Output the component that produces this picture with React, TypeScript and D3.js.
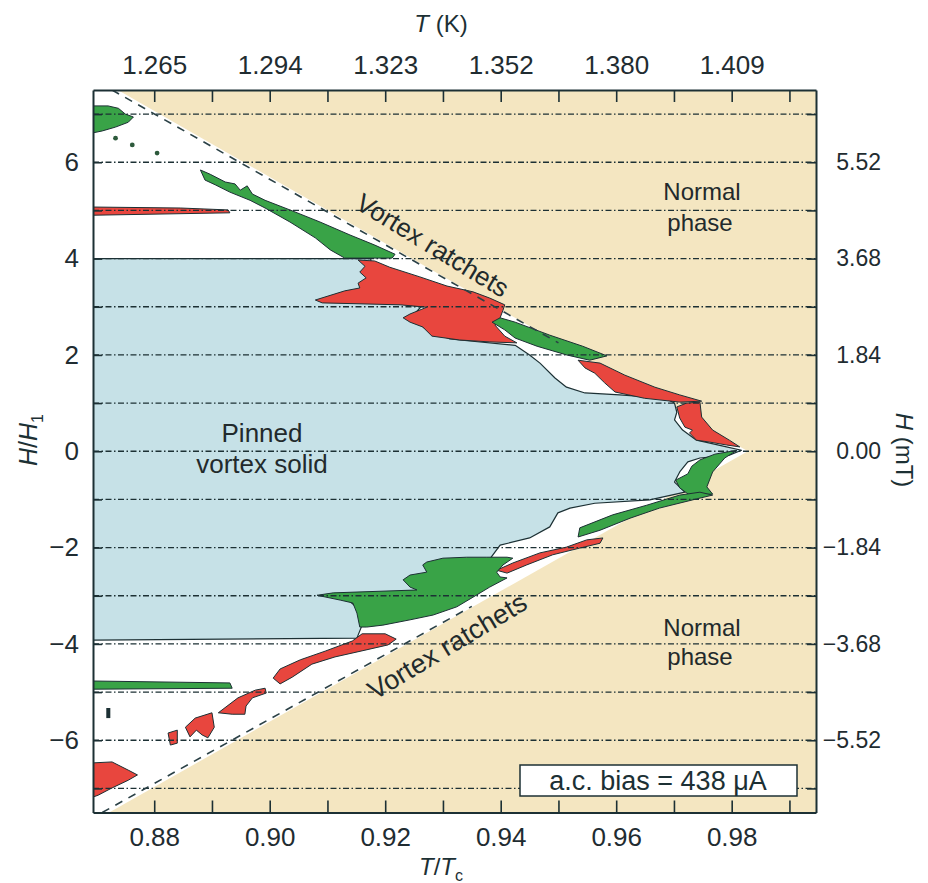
import React, { useEffect, useRef } from "react";
import * as d3 from "d3";

type Pt = [number, number]; // [T/Tc, H/H1]

// axis ranges and ticks
const tDomain: [number, number] = [0.8694, 0.9946];
const hDomain: [number, number] = [-7.5, 7.5];
const tTicks = [0.88, 0.89, 0.9, 0.91, 0.92, 0.93, 0.94, 0.95, 0.96, 0.97, 0.98, 0.99];
const tLabelled = [0.88, 0.9, 0.92, 0.94, 0.96, 0.98];
const kelvinLabels = ["1.265", "1.294", "1.323", "1.352", "1.380", "1.409"];
const hTicks = [-7, -6, -5, -4, -3, -2, -1, 0, 1, 2, 3, 4, 5, 6, 7];
const hLabelled = [6, 4, 2, 0, -2, -4, -6];
const mTLabels = ["5.52", "3.68", "1.84", "0.00", "\u22121.84", "\u22123.68", "\u22125.52"];

// white "vortex ratchets" wedge and its dashed edges
const ratchetRegion: Pt[] = [[0.8694, 7.5], [0.8737, 7.5], [0.9828, 0], [0.8722, -7.5], [0.8694, -7.5]];
const upperEdge: Pt[] = [[0.8727, 7.5], [0.95, 2.25]];
const lowerEdge: Pt[] = [[0.8710, -7.5], [0.935, -3.22]];

// pinned vortex solid (light blue)
const pinnedRegion: Pt[] = [
  [0.8694, 4.0], [0.9175, 4.0], [0.9178, 3.28], [0.9105, 3.10], [0.9226, 3.06], [0.9262, 3.0],
  [0.9245, 2.77], [0.9269, 2.55], [0.9312, 2.33], [0.9425, 2.20], [0.9450, 2.00],
  [0.9468, 1.83], [0.9494, 1.52], [0.9514, 1.33], [0.9546, 1.21], [0.9606, 1.17], [0.9684, 1.10],
  [0.9701, 1.00], [0.9705, 0.81], [0.9701, 0.65], [0.9715, 0.44], [0.9739, 0.23], [0.9791, 0.09],
  [0.9817, 0.02], [0.9796, -0.08], [0.9745, -0.14], [0.9724, -0.22], [0.9710, -0.43], [0.9701, -0.64],
  [0.9719, -0.85], [0.9658, -1.01], [0.9563, -1.08], [0.9520, -1.18], [0.9499, -1.28], [0.9485, -1.57],
  [0.9450, -1.80], [0.9399, -1.95], [0.9381, -2.24], [0.9303, -2.28], [0.9277, -2.47], [0.9274, -2.59],
  [0.9250, -2.66], [0.9254, -2.89], [0.9110, -3.01], [0.9139, -3.12], [0.9160, -3.34], [0.9160, -3.61],
  [0.9151, -3.88], [0.8694, -3.92],
];

// red patches
const redUpper: Pt[] = [
  [0.9153, 3.97], [0.9165, 3.84], [0.9156, 3.72], [0.9167, 3.60], [0.9153, 3.49], [0.9156, 3.39],
  [0.9130, 3.33], [0.9079, 3.14], [0.9091, 3.08], [0.9226, 3.04], [0.9272, 2.99], [0.9243, 2.85],
  [0.9231, 2.77], [0.9243, 2.68], [0.9265, 2.58], [0.9281, 2.39], [0.9329, 2.31], [0.9381, 2.27],
  [0.9428, 2.25], [0.9407, 2.39], [0.9390, 2.62], [0.9399, 2.77], [0.9404, 2.93], [0.9407, 3.04],
  [0.9381, 3.18], [0.9352, 3.31], [0.9307, 3.43], [0.9260, 3.62], [0.9208, 3.82], [0.9182, 3.95],
];
const redH5: Pt[] = [[0.8694, 5.07], [0.8845, 5.05], [0.8928, 5.01], [0.8931, 4.95], [0.8694, 4.90]];
const redNearOne: Pt[] = [
  [0.9534, 1.89], [0.9572, 1.83], [0.9615, 1.58], [0.9667, 1.33], [0.9710, 1.17], [0.9748, 1.04],
  [0.9710, 1.02], [0.9649, 1.10], [0.9598, 1.23], [0.9580, 1.42], [0.9563, 1.62], [0.9546, 1.73],
];
const redTip: Pt[] = [
  [0.9705, 0.92], [0.9722, 1.00], [0.9745, 1.02], [0.9748, 0.71], [0.9767, 0.44], [0.9796, 0.23],
  [0.9814, 0.09], [0.9791, 0.13], [0.9762, 0.19], [0.9739, 0.23], [0.9727, 0.38], [0.9732, 0.44],
  [0.9719, 0.50], [0.9710, 0.69],
];
const redMinusTwo: Pt[] = [
  [0.9393, -2.47], [0.9421, -2.32], [0.9468, -2.11], [0.9514, -1.99], [0.9549, -1.84], [0.9577, -1.80],
  [0.9572, -1.91], [0.9537, -2.01], [0.9490, -2.15], [0.9445, -2.36], [0.9411, -2.53],
];
const redMinusFour: Pt[] = [
  [0.9006, -4.71], [0.9018, -4.52], [0.9053, -4.33], [0.9096, -4.15], [0.9143, -3.94], [0.9160, -3.79],
  [0.9200, -3.79], [0.9219, -3.90], [0.9205, -4.02], [0.9165, -4.13], [0.9113, -4.27], [0.9073, -4.42],
  [0.9039, -4.69], [0.9018, -4.83],
];
const redMinusFive: Pt[] = [
  [0.8911, -5.43], [0.8945, -5.12], [0.8975, -4.96], [0.8992, -4.92], [0.8994, -5.02], [0.8970, -5.12],
  [0.8959, -5.29], [0.8957, -5.46], [0.8935, -5.46],
];
const redMinusSix: Pt[] = [
  [0.8854, -5.73], [0.8871, -5.54], [0.8900, -5.43], [0.8904, -5.73], [0.8893, -5.95], [0.8883, -5.89],
  [0.8873, -5.79], [0.8862, -5.93],
];
const redSmall: Pt[] = [[0.8824, -5.85], [0.8840, -5.79], [0.8840, -6.06], [0.8828, -6.10]];
const redCorner: Pt[] = [
  [0.8694, -6.47], [0.8727, -6.45], [0.8755, -6.62], [0.8771, -6.72], [0.8755, -6.83], [0.8727, -6.99],
  [0.8703, -7.14], [0.8694, -7.18],
];

// green patches
const greenCorner: Pt[] = [
  [0.8694, 7.17], [0.8720, 7.17], [0.8738, 7.12], [0.8750, 7.00], [0.8764, 6.94], [0.8755, 6.83],
  [0.8733, 6.73], [0.8710, 6.65], [0.8694, 6.61],
];
const greenUpper: Pt[] = [
  [0.8880, 5.84], [0.8897, 5.75], [0.8923, 5.59], [0.8940, 5.55], [0.8949, 5.42], [0.8961, 5.51],
  [0.8970, 5.34], [0.8992, 5.21], [0.9035, 5.01], [0.9087, 4.76], [0.9139, 4.49], [0.9182, 4.28],
  [0.9217, 4.09], [0.9212, 4.01], [0.9130, 4.01], [0.9105, 4.18], [0.9079, 4.43], [0.9035, 4.76],
  [0.8992, 5.05], [0.8966, 5.21], [0.8931, 5.38], [0.8906, 5.53], [0.8888, 5.63],
];
const greenTwo: Pt[] = [
  [0.9385, 2.68], [0.9399, 2.77], [0.9425, 2.68], [0.9485, 2.41], [0.9542, 2.18], [0.9584, 1.98],
  [0.9554, 1.89], [0.9514, 2.00], [0.9463, 2.18], [0.9425, 2.35], [0.9407, 2.52],
];
const greenTip: Pt[] = [
  [0.9809, 0.02], [0.9788, -0.14], [0.9767, -0.43], [0.9757, -0.74], [0.9767, -0.89], [0.9727, -0.91],
  [0.9710, -0.76], [0.9703, -0.60], [0.9724, -0.47], [0.9731, -0.31], [0.9745, -0.18], [0.9771, -0.06],
];
const greenMinusOne: Pt[] = [
  [0.9537, -1.59], [0.9594, -1.32], [0.9653, -1.12], [0.9710, -0.91], [0.9745, -0.85], [0.9767, -0.91],
  [0.9739, -0.99], [0.9675, -1.18], [0.9624, -1.39], [0.9572, -1.64], [0.9534, -1.78],
];
const greenMinusThree: Pt[] = [
  [0.9082, -2.99], [0.9110, -2.94], [0.9255, -2.88], [0.9243, -2.82], [0.9231, -2.67], [0.9243, -2.57],
  [0.9272, -2.51], [0.9265, -2.36], [0.9272, -2.30], [0.9300, -2.22], [0.9341, -2.20], [0.9376, -2.20],
  [0.9411, -2.20], [0.9421, -2.22], [0.9404, -2.36], [0.9393, -2.51], [0.9399, -2.61], [0.9411, -2.63],
  [0.9381, -2.82], [0.9352, -3.03], [0.9324, -3.23], [0.9283, -3.40], [0.9243, -3.50], [0.9196, -3.61],
  [0.9168, -3.65], [0.9156, -3.65], [0.9151, -3.36], [0.9144, -3.15], [0.9122, -3.09],
];
const greenMinusFive: Pt[] = [[0.8694, -4.77], [0.8931, -4.81], [0.8935, -4.92], [0.8694, -4.94]];

const darkMarks: Pt[][] = [[[0.8717, -5.33], [0.8724, -5.33], [0.8724, -5.54], [0.8717, -5.54]]];
const ratchetDots: Pt[] = [[0.8733, 6.50], [0.8762, 6.36], [0.8805, 6.19]];

const redPatches = [redUpper, redH5, redNearOne, redTip, redMinusTwo, redMinusFour, redMinusFive, redMinusSix, redSmall, redCorner];
const greenPatches = [greenCorner, greenUpper, greenTwo, greenTip, greenMinusOne, greenMinusThree, greenMinusFive];

const width = 928;
const height = 883;
const margin = { top: 90, right: 112, bottom: 70.5, left: 93 };

const TAN = "#f4e6c1";
const BLUE = "#c6e1e7";
const RED = "#e8463e";
const GREEN = "#39a347";
const INK = "#1c3034";
const FONT = "'Liberation Sans', Arial, Helvetica, sans-serif";

const App: React.FC = () => {
  const svgRef = useRef<SVGSVGElement>(null);

  useEffect(() => {
    if (!svgRef.current) return;
    const svg = d3.select(svgRef.current);
    svg.selectAll("*").remove();

    const x = d3.scaleLinear().domain(tDomain).range([margin.left, width - margin.right]);
    const y = d3.scaleLinear().domain(hDomain).range([height - margin.bottom, margin.top]);
    const lineGen = d3.line<Pt>().x(d => x(d[0])).y(d => y(d[1]));
    const poly = (pts: Pt[]) => (lineGen(pts) || "") + "Z";

    const x0 = x(tDomain[0]), x1 = x(tDomain[1]);
    const y0 = y(hDomain[1]), y1 = y(hDomain[0]);

    svg.append("defs").append("clipPath").attr("id", "plotClip")
      .append("rect").attr("x", x0).attr("y", y0).attr("width", x1 - x0).attr("height", y1 - y0);

    const plot = svg.append("g").attr("clip-path", "url(#plotClip)");

    // normal phase background
    plot.append("rect").attr("x", x0).attr("y", y0).attr("width", x1 - x0).attr("height", y1 - y0).attr("fill", TAN);

    // ratchet wedge
    plot.append("path").attr("d", poly(ratchetRegion)).attr("fill", "#fff");

    // pinned solid
    plot.append("path").attr("d", poly(pinnedRegion))
      .attr("fill", BLUE).attr("stroke", INK).attr("stroke-width", 1.2).attr("stroke-linejoin", "round");

    redPatches.forEach(p => {
      plot.append("path").attr("d", poly(p))
        .attr("fill", RED).attr("stroke", INK).attr("stroke-width", 1).attr("stroke-linejoin", "round");
    });
    greenPatches.forEach(p => {
      plot.append("path").attr("d", poly(p))
        .attr("fill", GREEN).attr("stroke", INK).attr("stroke-width", 1).attr("stroke-linejoin", "round");
    });
    darkMarks.forEach(p => {
      plot.append("path").attr("d", poly(p)).attr("fill", INK);
    });
    plot.selectAll(".dot").data(ratchetDots).join("circle")
      .attr("class", "dot")
      .attr("cx", d => x(d[0])).attr("cy", d => y(d[1])).attr("r", 2.4).attr("fill", "#2d5a3c");

    // dash-dot grid lines
    plot.selectAll(".grid").data(hTicks).join("line")
      .attr("class", "grid")
      .attr("x1", x0).attr("x2", x1)
      .attr("y1", d => y(d)).attr("y2", d => y(d))
      .attr("stroke", INK).attr("stroke-width", 1.3)
      .attr("stroke-dasharray", "6,2.5,1.5,2.5");

    // dashed phase boundaries
    [upperEdge, lowerEdge].forEach(e => {
      plot.append("path").attr("d", lineGen(e) || "")
        .attr("fill", "none").attr("stroke", "#2b4146").attr("stroke-width", 1.6)
        .attr("stroke-dasharray", "8,7");
    });

    // legend box
    svg.append("rect").attr("x", 520).attr("y", 765).attr("width", 277).attr("height", 31)
      .attr("fill", "#fff").attr("stroke", INK).attr("stroke-width", 1.5);
    svg.append("text").attr("x", 658).attr("y", 790).attr("text-anchor", "middle")
      .attr("font-family", FONT).attr("font-size", 27).attr("fill", INK)
      .text("a.c. bias = 438 \u03bcA");

    // axes
    const styleAxis = (g: d3.Selection<SVGGElement, unknown, null, undefined>) => {
      g.attr("font-family", FONT).attr("font-size", 26);
      g.select(".domain").attr("stroke", INK).attr("stroke-width", 2);
      g.selectAll(".tick line").attr("stroke", INK).attr("stroke-width", 1.6);
      g.selectAll(".tick text").attr("fill", "#1f2c31");
    };

    svg.append("g").attr("transform", `translate(0,${y1})`)
      .call(d3.axisBottom(x).tickValues(tTicks).tickSize(-12).tickSizeOuter(0).tickPadding(15)
        .tickFormat(d => (tLabelled.includes(+d) ? d3.format(".2f")(+d) : "")))
      .call(styleAxis);

    svg.append("g").attr("transform", `translate(0,${y0})`)
      .call(d3.axisTop(x).tickValues(tTicks).tickSize(-12).tickSizeOuter(0).tickPadding(16)
        .tickFormat(d => {
          const i = tLabelled.indexOf(+d);
          return i >= 0 ? kelvinLabels[i] : "";
        }))
      .call(styleAxis);

    svg.append("g").attr("transform", `translate(${x0},0)`)
      .call(d3.axisLeft(y).tickValues(hTicks).tickSize(-9).tickSizeOuter(0).tickPadding(14)
        .tickFormat(d => (hLabelled.includes(+d) ? d3.format("d")(+d) : "")))
      .call(styleAxis);

    const right = svg.append("g").attr("transform", `translate(${x1},0)`)
      .call(d3.axisRight(y).tickValues(hTicks).tickSize(-9).tickSizeOuter(0)
        .tickFormat(d => {
          const i = hLabelled.indexOf(+d);
          return i >= 0 ? mTLabels[i] : "";
        }))
      .call(styleAxis);
    right.selectAll(".tick text").attr("text-anchor", "end").attr("x", 65).attr("font-size", 23);

    // axis titles
    const top = svg.append("text").attr("x", 441).attr("y", 32).attr("text-anchor", "middle")
      .attr("font-family", FONT).attr("font-size", 24).attr("fill", INK);
    top.append("tspan").attr("font-style", "italic").text("T");
    top.append("tspan").text(" (K)");

    const bottom = svg.append("text").attr("x", 441).attr("y", 875).attr("text-anchor", "middle")
      .attr("font-family", FONT).attr("font-size", 24).attr("fill", INK);
    bottom.append("tspan").attr("font-style", "italic").text("T");
    bottom.append("tspan").text("/");
    bottom.append("tspan").attr("font-style", "italic").text("T");
    bottom.append("tspan").attr("font-size", 16).attr("dy", 6).text("c");

    const left = svg.append("text").attr("transform", "translate(37,440) rotate(-90)")
      .attr("text-anchor", "middle").attr("font-family", FONT).attr("font-size", 25).attr("fill", INK);
    left.append("tspan").attr("font-style", "italic").text("H");
    left.append("tspan").text("/");
    left.append("tspan").attr("font-style", "italic").text("H");
    left.append("tspan").attr("font-size", 16).attr("dy", 6).text("1");

    const rightTitle = svg.append("text").attr("transform", "translate(896,450) rotate(90)")
      .attr("text-anchor", "middle").attr("font-family", FONT).attr("font-size", 24).attr("fill", INK);
    rightTitle.append("tspan").attr("font-style", "italic").text("H");
    rightTitle.append("tspan").text(" (mT)");

    // region labels
    const label = (tx: number, ty: number, s: string, size: number, rot = 0) => {
      svg.append("text")
        .attr("transform", `translate(${tx},${ty}) rotate(${rot})`)
        .attr("text-anchor", "middle").attr("font-family", FONT).attr("font-size", size)
        .attr("fill", "#222a2c").text(s);
    };
    label(262, 442, "Pinned", 26);
    label(262, 473, "vortex solid", 26);
    label(702, 200, "Normal", 24);
    label(700, 231, "phase", 24);
    label(702, 636, "Normal", 24);
    label(700, 665, "phase", 24);
    label(428, 253, "Vortex ratchets", 26, 31.5);
    label(452, 654, "Vortex ratchets", 27, -31);
  }, []);

  return (
    <svg
      ref={svgRef}
      width={width}
      height={height}
      style={{ position: "absolute", left: 0, top: 0, background: "#fff", display: "block" }}
    />
  );
};

export default App;
